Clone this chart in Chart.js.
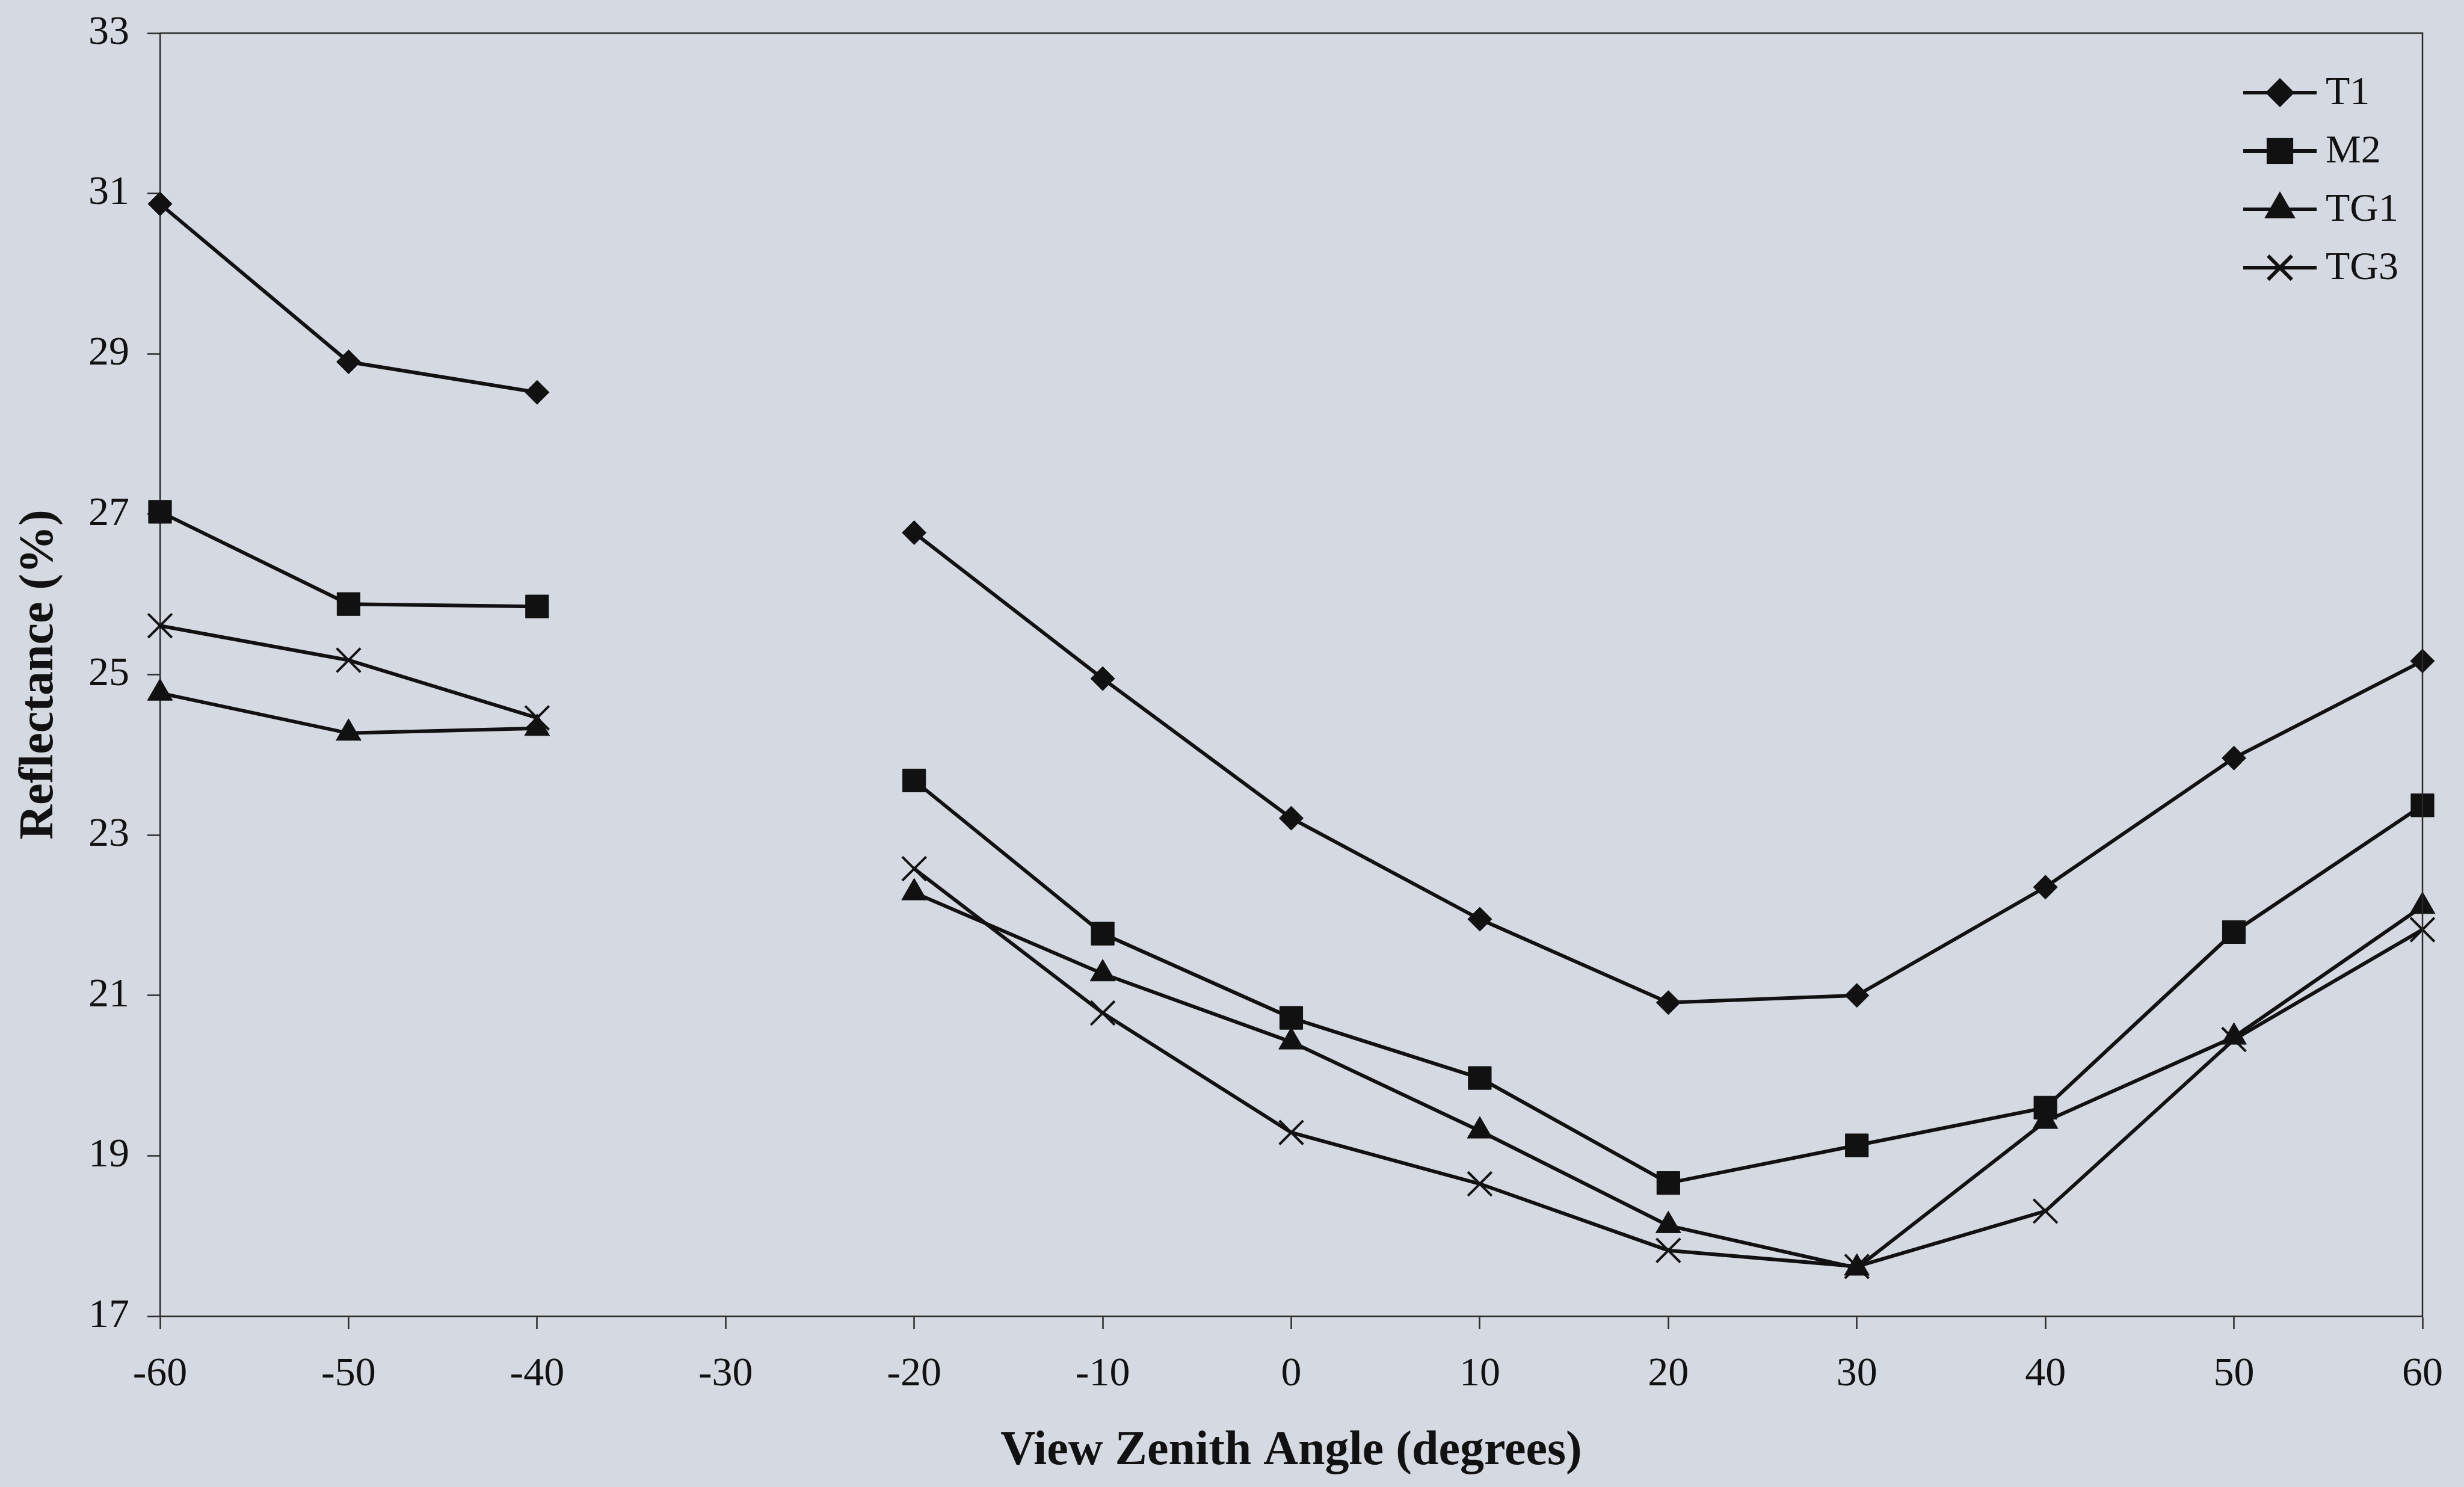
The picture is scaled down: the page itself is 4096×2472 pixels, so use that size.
<!DOCTYPE html>
<html>
<head>
<meta charset="utf-8">
<script src="https://cdn.jsdelivr.net/npm/chart.js@4.4.1/dist/chart.umd.min.js"></script>
<style>
  html, body { margin: 0; padding: 0; background: #d5d9e1; }
  canvas { display: block; }
</style>
</head>
<body>
<canvas id="myChart" width="4096" height="2472"></canvas>
<script>
// view zenith angles (degrees), -30 has no measurement
const angles = [-60, -50, -40, -30, -20, -10, 0, 10, 20, 30, 40, 50, 60];

const t1  = [30.87, 28.90, 28.52, null, 26.77, 24.95, 23.21, 21.95, 20.91, 21.00, 22.35, 23.96, 25.17];
const m2  = [27.03, 25.88, 25.85, null, 23.68, 21.77, 20.72, 19.97, 18.66, 19.13, 19.60, 21.79, 23.37];
const tg1 = [24.77, 24.27, 24.33, null, 22.28, 21.27, 20.42, 19.31, 18.13, 17.60, 19.43, 20.48, 22.11];
const tg3 = [25.61, 25.18, 24.46, null, 22.58, 20.78, 19.29, 18.65, 17.82, 17.62, 18.31, 20.45, 21.82];

const seriesNames = ['T1', 'M2', 'TG1', 'TG3'];
const xTicks = [-60, 60, 10];   // min, max, step
const yTicks = [17, 33, 2];

const FONT = "'Liberation Serif', 'Times New Roman', serif";
const INK = '#111';

function toPoints(values) {
    return values.map((v, i) => ({ x: angles[i], y: v }));
}

function makeSet(label, values, style, radius, bw) {
    return {
        label: label,
        data: toPoints(values),
        borderColor: INK,
        borderWidth: 6,
        backgroundColor: INK,
        pointStyle: style,
        pointRadius: radius,
        pointBorderWidth: bw,
        pointBackgroundColor: INK,
        pointBorderColor: INK,
        spanGaps: false,
        tension: 0,
        clip: false
    };
}

// box around plot area + legend in the top right corner
const framePlugin = {
    id: 'frame',
    afterDatasetsDraw(chart) {
        const { ctx, chartArea } = chart;
        ctx.save();
        ctx.strokeStyle = '#2a2a2a';
        ctx.lineWidth = 2.5;
        ctx.beginPath();
        ctx.moveTo(chartArea.left, chartArea.top);
        ctx.lineTo(chartArea.right, chartArea.top);
        ctx.lineTo(chartArea.right, chartArea.bottom);
        ctx.stroke();

        // legend
        const x0 = chartArea.right - 298;
        const x1 = chartArea.right - 176;
        const tx = chartArea.right - 161;
        chart.data.datasets.forEach((ds, i) => {
            const y = chartArea.top + 99 + i * 97;
            ctx.strokeStyle = INK;
            ctx.lineWidth = 6;
            ctx.beginPath();
            ctx.moveTo(x0, y);
            ctx.lineTo(x1, y);
            ctx.stroke();
            ctx.fillStyle = INK;
            Chart.helpers.drawPoint(ctx, {
                pointStyle: ds.pointStyle,
                radius: ds.pointRadius,
                borderWidth: ds.pointBorderWidth,
                rotation: 0
            }, (x0 + x1) / 2, y);
            ctx.fillStyle = INK;
            ctx.font = '66px ' + FONT;
            ctx.textAlign = 'left';
            ctx.textBaseline = 'middle';
            ctx.fillText(ds.label, tx, y + 2);
        });
        ctx.restore();
    }
};

const ctx = document.getElementById('myChart');
const myChart = new Chart(ctx, {
    type: 'line',
    data: {
        datasets: [
            makeSet(seriesNames[0], t1, 'rectRot', 20, 1),
            makeSet(seriesNames[1], m2, 'rect', 27, 1),
            makeSet(seriesNames[2], tg1, 'triangle', 24, 1),
            makeSet(seriesNames[3], tg3, 'crossRot', 28, 4)
        ]
    },
    options: {
        responsive: false,
        animation: false,
        events: [],
        layout: { padding: { top: 55, right: 69, left: 0, bottom: 0 } },
        plugins: {
            legend: { display: false },
            tooltip: { enabled: false }
        },
        scales: {
            x: {
                type: 'linear',
                min: xTicks[0],
                max: xTicks[1],
                afterFit(scale) {
                    scale.height = 284;
                    scale.paddingLeft = 0;
                    scale.paddingRight = 0;
                },
                ticks: {
                    stepSize: xTicks[2],
                    color: INK,
                    padding: 35,
                    maxRotation: 0,
                    font: { family: FONT, size: 68 }
                },
                grid: {
                    drawOnChartArea: false,
                    drawTicks: true,
                    tickLength: 21,
                    tickWidth: 2.5,
                    tickColor: '#2a2a2a'
                },
                border: { display: true, color: '#2a2a2a', width: 2.5 },
                title: {
                    display: true,
                    text: 'View Zenith Angle (degrees)',
                    color: INK,
                    padding: { top: 0, bottom: 11 },
                    font: { family: FONT, size: 80, weight: 'bold' }
                }
            },
            y: {
                type: 'linear',
                min: yTicks[0],
                max: yTicks[1],
                afterFit(scale) {
                    scale.width = 266;
                    scale.paddingTop = 0;
                    scale.paddingBottom = 0;
                },
                ticks: {
                    stepSize: yTicks[2],
                    color: INK,
                    padding: 30,
                    font: { family: FONT, size: 68 }
                },
                grid: {
                    drawOnChartArea: false,
                    drawTicks: true,
                    tickLength: 21,
                    tickWidth: 2.5,
                    tickColor: '#2a2a2a'
                },
                border: { display: true, color: '#2a2a2a', width: 2.5 },
                title: {
                    display: true,
                    text: 'Reflectance (%)',
                    color: INK,
                    padding: { top: 18, bottom: 0 },
                    font: { family: FONT, size: 80, weight: 'bold' }
                }
            }
        }
    },
    plugins: [framePlugin]
});
</script>
</body>
</html>
